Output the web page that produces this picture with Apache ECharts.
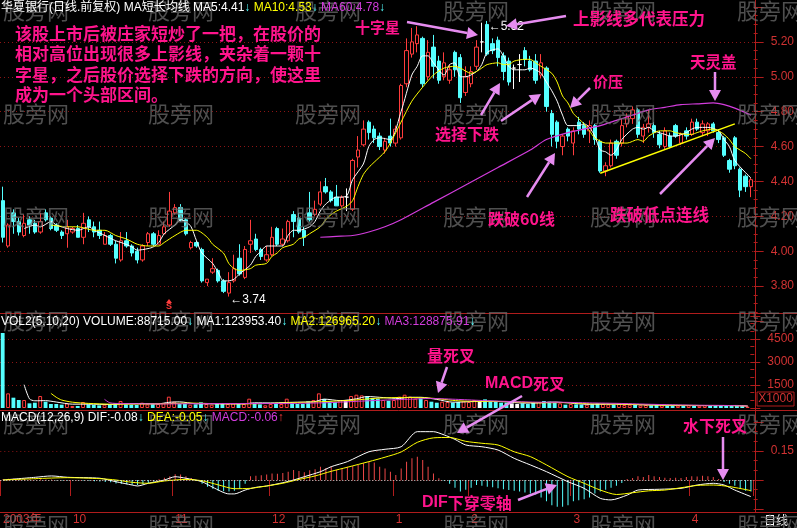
<!DOCTYPE html>
<html><head><meta charset="utf-8">
<script src="https://cdn.jsdelivr.net/npm/echarts@6/dist/echarts.min.js"></script>
<style>html,body{margin:0;padding:0;background:#000;}#c{width:797px;height:528px;}</style>
</head><body><div id="c"></div>
<script>
// ---------- data ----------
const opens = [4.29,4.03,4.22,4.17,4.09,4.18,4.16,4.11,4.22,4.19,
4.15,4.11,4.10,4.11,4.13,4.08,4.18,4.14,4.12,4.04,
4.09,4.04,3.95,4.06,4.03,4.00,3.95,4.05,4.10,4.04,
4.10,4.15,4.22,4.25,4.18,4.02,4.05,4.01,3.82,3.88,
3.89,3.83,3.76,3.83,3.96,3.85,4.04,4.07,4.01,3.95,
3.98,4.13,4.04,4.06,4.21,4.19,4.12,4.22,4.21,4.27,
4.37,4.34,4.31,4.26,4.31,4.24,4.54,4.61,4.74,4.70,
4.66,4.58,4.66,4.62,4.65,4.96,5.13,5.19,5.22,5.00,
5.17,5.09,5.00,4.98,5.14,5.11,4.91,4.96,5.06,5.20,
5.30,5.19,5.21,5.12,5.09,5.05,5.07,5.15,5.09,5.09,
5.01,5.05,4.79,4.74,4.60,4.70,4.62,4.74,4.72,4.69,
4.72,4.63,4.46,4.49,4.63,4.62,4.73,4.76,4.81,4.66,
4.71,4.72,4.67,4.60,4.66,4.72,4.62,4.69,4.67,4.74,
4.68,4.69,4.73,4.68,4.65,4.52,4.65,4.47,4.43,4.37];
const closes = [4.08,4.15,4.17,4.11,4.16,4.15,4.11,4.17,4.18,4.13,
4.12,4.09,4.14,4.13,4.08,4.16,4.14,4.11,4.09,4.09,
4.04,3.96,4.06,4.03,3.99,3.95,4.03,4.10,4.04,4.09,
4.14,4.23,4.25,4.18,4.10,4.05,4.03,3.83,3.84,3.90,
3.83,3.77,3.82,3.90,3.87,4.01,4.06,4.01,3.97,3.98,
4.08,4.04,4.07,4.17,4.17,4.11,4.08,4.18,4.24,4.34,
4.34,4.29,4.26,4.31,4.31,4.52,4.58,4.70,4.68,4.65,
4.60,4.63,4.62,4.70,4.95,5.15,5.20,5.24,4.96,5.14,
5.06,4.98,5.08,5.04,5.04,4.88,5.00,5.03,5.17,5.20,
5.13,5.15,5.11,5.03,4.97,5.05,5.07,5.10,5.04,4.98,
5.08,4.83,4.67,4.63,4.66,4.66,4.69,4.70,4.67,4.72,
4.64,4.46,4.49,4.62,4.55,4.72,4.77,4.81,4.67,4.71,
4.73,4.68,4.61,4.69,4.60,4.66,4.67,4.66,4.74,4.70,
4.73,4.73,4.69,4.64,4.55,4.47,4.49,4.35,4.37,4.41];
const highs = [4.37,4.16,4.24,4.19,4.21,4.20,4.18,4.22,4.24,4.20,
4.16,4.12,4.18,4.14,4.15,4.22,4.20,4.17,4.17,4.11,
4.10,4.06,4.11,4.11,4.04,4.02,4.04,4.11,4.11,4.12,
4.17,4.34,4.27,4.27,4.19,4.06,4.06,4.02,3.84,3.96,
3.90,3.84,3.88,3.98,4.04,4.03,4.18,4.10,4.02,4.03,
4.14,4.14,4.13,4.18,4.23,4.22,4.14,4.34,4.29,4.40,
4.42,4.35,4.38,4.32,4.36,4.53,4.66,4.75,4.75,4.72,
4.68,4.65,4.76,4.72,4.96,5.22,5.28,5.29,5.23,5.21,
5.24,5.12,5.14,5.07,5.15,5.13,5.06,5.06,5.21,5.31,
5.32,5.22,5.23,5.14,5.11,5.07,5.13,5.17,5.12,5.13,
5.13,5.06,4.81,4.75,4.67,4.71,4.71,4.77,4.74,4.75,
4.73,4.64,4.51,4.64,4.64,4.76,4.79,4.83,4.82,4.73,
4.81,4.74,4.69,4.71,4.68,4.73,4.68,4.71,4.76,4.76,
4.75,4.74,4.74,4.70,4.66,4.53,4.66,4.48,4.44,4.42];
const lows = [4.05,4.02,4.10,4.09,4.08,4.10,4.10,4.10,4.17,4.12,
4.11,4.07,4.02,4.10,4.08,4.04,4.11,4.08,4.07,4.04,
4.03,3.93,3.94,4.02,3.97,3.93,3.94,4.03,4.03,4.04,
4.10,4.14,4.21,4.17,4.09,4.01,4.02,3.82,3.80,3.87,
3.82,3.76,3.74,3.82,3.86,3.84,3.99,4.00,3.95,3.94,
3.97,4.03,4.03,4.05,4.08,4.10,4.03,4.17,4.20,4.26,
4.33,4.28,4.26,4.25,4.23,4.23,4.48,4.60,4.64,4.62,
4.58,4.56,4.60,4.60,4.64,4.94,5.11,5.14,4.94,4.98,
4.99,4.96,4.98,4.96,5.00,4.85,4.89,4.94,5.04,5.14,
5.12,5.13,5.06,4.98,4.95,4.93,4.97,5.06,5.03,4.96,
4.99,4.80,4.60,4.59,4.55,4.63,4.55,4.67,4.65,4.62,
4.61,4.45,4.43,4.48,4.53,4.60,4.71,4.73,4.65,4.62,
4.68,4.65,4.59,4.58,4.59,4.65,4.61,4.64,4.66,4.69,
4.66,4.66,4.68,4.62,4.54,4.45,4.47,4.31,4.34,4.31];
// volume, in units of 1000
const volumes = [4890,955,673,521,521,304,347,781,412,260,
260,217,304,130,130,390,239,195,174,217,
195,304,456,239,217,195,347,239,260,260,
304,738,412,260,260,217,239,369,260,217,
260,260,260,304,260,260,608,304,239,174,
260,304,260,608,390,260,260,434,521,955,
586,434,390,521,521,781,868,825,738,651,
608,521,477,521,738,868,738,608,630,521,
412,347,412,390,347,390,434,390,521,412,
564,412,390,347,347,304,260,304,260,347,
390,455,412,347,304,217,260,239,217,217,
239,304,260,239,217,260,195,217,239,174,
195,174,195,174,152,174,152,152,174,152,
152,174,152,130,174,152,195,174,130,89];
const macdHist = [0.004,0.006,0.008,0.006,0.005,0.004,0.003,0.004,0.003,0.002,
-0.002,-0.003,-0.002,-0.001,-0.003,-0.002,-0.004,-0.006,-0.008,-0.010,
-0.012,-0.018,-0.020,-0.022,-0.024,-0.026,-0.022,-0.015,-0.008,0.004,
0.012,0.020,0.030,0.028,0.020,0.010,-0.005,-0.020,-0.035,-0.045,
-0.055,-0.058,-0.060,-0.055,-0.045,-0.020,0.020,0.022,0.024,0.028,
0.034,0.032,0.036,0.043,0.052,0.046,0.040,0.050,0.055,0.069,
0.062,0.069,0.052,0.060,0.069,0.072,0.078,0.086,0.095,0.090,
0.069,0.060,0.043,0.026,0.060,0.095,0.112,0.120,0.103,0.069,
0.034,0.009,-0.005,-0.020,-0.040,-0.060,-0.050,-0.040,-0.026,-0.030,
-0.035,-0.038,-0.043,-0.048,-0.052,-0.055,-0.060,-0.065,-0.070,-0.075,
-0.090,-0.110,-0.130,-0.138,-0.138,-0.130,-0.110,-0.105,-0.100,-0.090,
-0.070,-0.060,-0.050,-0.040,-0.030,-0.015,0.005,0.010,0.020,0.015,
0.026,0.020,0.015,0.012,0.010,0.012,0.010,0.015,0.020,0.018,
0.022,0.020,0.015,0.005,-0.010,-0.020,-0.030,-0.045,-0.055,-0.060];
// moving-average lines: [day index, value]
const ma5Pts = [[4,4.13],[6,4.15],[7,4.14],[9,4.17],[10,4.15],[12,4.13],[14,4.12],[16,4.14],[17,4.12],[19,4.09],[21,4.06],[22,4.05],[24,4.025],[25,4.006],[27,4.015],[28,4.025],[29,4.05],[30,4.10],[32,4.15],[33,4.18],[34,4.17],[35,4.14],[36,4.06],[37,3.99],[39,3.93],[40,3.88],[41,3.83],[42,3.83],[43,3.84],[44,3.87],[46,3.92],[47,3.97],[48,4.00],[49,4.03],[51,4.03],[52,4.03],[53,4.09],[54,4.12],[55,4.12],[57,4.14],[58,4.17],[59,4.23],[60,4.27],[62,4.31],[63,4.31],[64,4.32],[65,4.41],[67,4.50],[68,4.60],[69,4.64],[70,4.65],[72,4.64],[74,4.80],[76,5.01],[77,5.06],[78,5.12],[79,5.12],[80,5.08],[82,5.01],[83,5.07],[84,5.08],[85,5.00],[86,5.00],[88,5.03],[89,5.07],[90,5.14],[92,5.16],[93,5.12],[94,5.06],[95,5.04],[97,5.04],[98,5.05],[99,5.04],[100,5.02],[101,4.97],[102,4.92],[103,4.86],[104,4.78],[105,4.72],[107,4.72],[108,4.73],[109,4.71],[110,4.66],[111,4.58],[112,4.57],[113,4.55],[114,4.58],[115,4.64],[117,4.70],[118,4.71],[119,4.70],[120,4.71],[121,4.69],[123,4.67],[124,4.66],[125,4.66],[127,4.68],[128,4.70],[129,4.71],[130,4.71],[131,4.71],[133,4.69],[134,4.64],[135,4.60],[136,4.52],[138,4.45],[139,4.42]];
const ma10Pts = [[9,4.15],[12,4.14],[14,4.14],[17,4.12],[19,4.12],[21,4.09],[23,4.07],[25,4.04],[27,4.03],[29,4.03],[30,4.05],[32,4.09],[34,4.12],[36,4.12],[38,4.08],[39,4.04],[41,3.99],[42,3.93],[43,3.90],[44,3.89],[46,3.90],[47,3.92],[49,3.93],[50,3.97],[51,3.99],[52,4.02],[54,4.04],[55,4.07],[56,4.08],[57,4.10],[59,4.14],[60,4.18],[61,4.21],[62,4.23],[64,4.26],[65,4.29],[66,4.37],[67,4.44],[68,4.48],[69,4.51],[71,4.57],[72,4.62],[74,4.74],[76,4.86],[78,4.94],[80,5.01],[82,5.05],[84,5.06],[85,5.05],[87,5.02],[88,5.03],[89,5.05],[90,5.07],[92,5.08],[93,5.07],[94,5.07],[95,5.09],[97,5.10],[98,5.10],[99,5.08],[100,5.06],[102,5.02],[103,4.97],[104,4.89],[105,4.85],[106,4.79],[107,4.76],[108,4.73],[109,4.69],[110,4.65],[112,4.62],[114,4.62],[116,4.62],[118,4.64],[119,4.63],[120,4.66],[122,4.69],[123,4.69],[124,4.69],[125,4.68],[127,4.67],[128,4.67],[129,4.68],[130,4.69],[132,4.70],[133,4.69],[134,4.67],[135,4.64],[136,4.60],[138,4.56],[139,4.53]];
const ma60Pts = [[59,4.08],[62,4.085],[65,4.09],[68,4.11],[71,4.14],[74,4.18],[80,4.28],[86,4.38],[92,4.48],[98,4.58],[101,4.64],[105,4.68],[108,4.70],[111,4.72],[114,4.75],[117,4.78],[120,4.81],[123,4.825],[126,4.84],[129,4.845],[132,4.85],[134,4.84],[136,4.82],[139,4.78]];
const volMa5Pts = [[4,1518],[5,596],[6,470],[8,480],[10,390],[13,250],[16,250],[20,230],[23,280],[26,290],[29,270],[31,370],[33,400],[36,280],[40,270],[45,270],[47,340],[50,330],[53,360],[55,380],[58,400],[60,580],[63,480],[66,600],[68,750],[71,680],[74,620],[76,700],[78,700],[81,560],[84,380],[88,420],[91,440],[94,400],[97,320],[100,330],[103,390],[106,320],[109,240],[112,250],[115,250],[118,220],[122,190],[126,165],[130,160],[134,155],[137,165],[139,124]];
const volMa10Pts = [[9,957],[10,700],[11,520],[13,380],[16,300],[20,250],[25,250],[30,280],[35,320],[40,280],[45,270],[50,300],[55,360],[60,420],[65,500],[70,640],[75,690],[80,640],[85,470],[90,430],[95,410],[100,340],[105,350],[110,270],[115,260],[120,210],[125,180],[130,165],[135,160],[139,127]];
const volMa20Pts = [[19,565],[20,340],[22,290],[30,265],[40,290],[50,290],[60,340],[70,500],[75,560],[80,620],[85,560],[90,480],[95,420],[100,380],[105,370],[110,330],[115,300],[120,250],[125,210],[130,180],[135,165],[139,129]];
const difPts = [[0,0.000],[6,0.014],[9,0.021],[12,0.014],[18,0.009],[21,-0.009],[24,-0.026],[25,-0.031],[27,-0.017],[30,0.000],[32,0.017],[34,0.009],[37,-0.009],[39,-0.038],[42,-0.072],[43,-0.072],[45,-0.052],[47,-0.038],[49,-0.031],[52,-0.014],[54,0.000],[56,0.017],[59,0.043],[61,0.069],[64,0.095],[68,0.146],[71,0.159],[74,0.172],[77,0.250],[80,0.250],[82,0.233],[84,0.210],[86,0.181],[89,0.172],[92,0.155],[95,0.112],[98,0.078],[101,0.043],[105,-0.009],[108,-0.043],[111,-0.095],[113,-0.103],[116,-0.078],[118,-0.052],[122,-0.048],[126,-0.043],[129,-0.026],[132,-0.017],[134,-0.026],[136,-0.052],[139,-0.086]];
const deaPts = [[0,0.000],[6,0.007],[12,0.012],[18,0.007],[21,0.000],[24,-0.012],[27,-0.017],[30,-0.005],[34,0.003],[37,-0.004],[40,-0.025],[43,-0.045],[46,-0.043],[49,-0.031],[52,-0.017],[55,0.003],[58,0.021],[61,0.045],[64,0.066],[68,0.095],[71,0.118],[74,0.145],[77,0.195],[80,0.218],[83,0.220],[86,0.200],[89,0.190],[92,0.181],[95,0.146],[98,0.121],[101,0.078],[105,0.017],[108,-0.017],[111,-0.052],[114,-0.075],[117,-0.066],[120,-0.056],[123,-0.052],[126,-0.040],[129,-0.028],[132,-0.026],[135,-0.034],[139,-0.055]];
const monthLabels = [[0,'2003年'],[13,'10'],[32,'11'],[50,'12'],[73,'1'],[87,'2'],[106,'3'],[128,'4']];
const priceExtremes = [[90,5.32],[42,3.74]];
const supportLine = [[110.5,4.447],[135.5,4.73]];

// ---------- styling ----------
const RED='#ff3c3c', CYAN='#54ffff', YEL='#ffff00', MAG='#d23cdc', WHITE='#ffffff';
const AXRED='#b01c1c', LBL='#d03232', GRIDC='#8c1414', PINK='#ff148c', ARROW='#e68cf0';
const FONT='"Liberation Sans","Noto Sans CJK SC",sans-serif';
const CJK='"Noto Sans CJK SC",sans-serif';

const days = opens.map((_, i) => String(i));
const monthMap = {}; monthLabels.forEach(([i, t]) => monthMap[i] = t);

const candleData = opens.map((o, i) => {
  const it = {value: [o, closes[i], lows[i], highs[i]]};
  if (o === closes[i]) it.itemStyle = {color: WHITE, color0: WHITE, borderColor: WHITE, borderColor0: WHITE};
  return it;
});
const volData = volumes.map((v, i) => ({
  value: v,
  itemStyle: closes[i] > opens[i] ? {color: 'rgba(0,0,0,0)', borderColor: RED, borderWidth: 1}
    : closes[i] < opens[i] ? {color: CYAN} : {color: WHITE}
}));
const macdData = macdHist.map(v => ({value: v, itemStyle: {color: v >= 0 ? '#f04848' : CYAN}}));

function lineSeries(data, color, xi, yi, w) {
  return {type: 'line', data, xAxisIndex: xi, yAxisIndex: yi, showSymbol: false, symbol: 'none',
    smooth: 0.25, lineStyle: {color, width: w || 1}, silent: true, z: 3};
}

function yAx(grid, min, max, interval, fmt) {
  return {type: 'value', gridIndex: grid, position: 'right', min, max, interval,
    axisLine: {show: false},
    axisTick: {show: true, length: 10, lineStyle: {color: AXRED}},
    minorTick: {show: true, splitNumber: grid === 0 ? 4 : 3, length: 4, lineStyle: {color: AXRED}},
    axisLabel: {show: true, showMinLabel: false, showMaxLabel: false, margin: 17, color: LBL, fontSize: 12, fontFamily: FONT, formatter: fmt},
    splitLine: {show: true, showMinLine: false, showMaxLine: false, lineStyle: {color: GRIDC, type: [1, 3], width: 1}},
    minorSplitLine: {show: false}};
}
function xAx(grid, show) {
  const a = {type: 'category', data: days, gridIndex: grid, boundaryGap: true,
    axisLine: {show: false}, axisTick: {show: false}, axisLabel: {show: false}, splitLine: {show: false}};
  if (show) {
    a.offset = 3;
    a.axisTick = {show: true, interval: (i) => monthMap[i] !== undefined, length: 16, lineStyle: {color: AXRED}};
    a.axisLabel = {show: true, interval: (i) => monthMap[i] !== undefined, formatter: (v, i) => monthMap[i] || '',
      align: 'left', margin: 2, color: LBL, fontSize: 12, fontFamily: FONT};
  }
  return a;
}

// ---------- graphics ----------
const G = [];
function arrow(x1, y1, x2, y2) {
  const a = Math.atan2(y2 - y1, x2 - x1), L = 11, W = 6;
  const bx = x2 - L * Math.cos(a), by = y2 - L * Math.sin(a);
  const px = -Math.sin(a) * W, py = Math.cos(a) * W;
  G.push({type: 'line', z: 120, shape: {x1, y1, x2: bx, y2: by}, style: {stroke: ARROW, lineWidth: 2.5}});
  G.push({type: 'polygon', z: 120, shape: {points: [[x2, y2], [bx + px, by + py], [bx - px, by - py]]}, style: {fill: ARROW}});
}
function note(text, x, y, size) {
  G.push({type: 'text', z: 120, x, y, style: {text, fill: PINK, fontSize: size || 16, fontWeight: 'bold', fontFamily: CJK, verticalAlign: 'middle'}});
}
// watermark
[0, 103, 206, 310, 413, 514].forEach(y => [3, 148, 295, 443, 590, 737].forEach(x => {
  G.push({type: 'text', z: 90, x, y, style: {text: '股旁网', fill: 'rgba(110,110,110,0.72)', fontSize: 22, fontFamily: CJK}});
}));
// panel separators
[313.5, 410.5, 512.5].forEach(y => G.push({type: 'line', z: 50, shape: {x1: 0, y1: y, x2: 797, y2: y}, style: {stroke: AXRED, lineWidth: 1}}));
G.push({type: 'line', z: 50, shape: {x1: 755.5, y1: 0, x2: 755.5, y2: 512}, style: {stroke: AXRED, lineWidth: 1}});
// titles
const rich = {
  w: {fill: WHITE, fontSize: 12, fontFamily: FONT}, c: {fill: CYAN, fontSize: 12, fontFamily: FONT, fontWeight: 'bold'},
  y: {fill: YEL, fontSize: 12, fontFamily: FONT}, m: {fill: MAG, fontSize: 12, fontFamily: FONT},
  r: {fill: RED, fontSize: 12, fontFamily: FONT, fontWeight: 'bold'}
};
function title(text, y) { G.push({type: 'text', z: 110, x: 1, y, style: {text, rich, fontSize: 12, fontFamily: FONT, fill: WHITE}}); }
title('{w|华夏银行(日线.前复权) MA短长均线 MA5:4.41}{c|↓} {y|MA10:4.53}{c|↓} {m|MA60:4.78}{c|↓}', 2);
title('{w|VOL2(5,10,20) VOLUME:88715.00}{c|↓} {w|MA1:123953.40}{c|↓} {y|MA2:126965.20}{c|↓} {m|MA3:128875.91}{c|↓}', 316);
title('{w|MACD(12,26,9) DIF:-0.08}{c|↓} {y|DEA:-0.05}{c|↓} {m|MACD:-0.06}{r|↑}', 412);
// X1000 box and 日线
G.push({type: 'rect', z: 60, shape: {x: 757, y: 392, width: 37, height: 14}, style: {fill: '#000', stroke: AXRED, lineWidth: 1}});
G.push({type: 'text', z: 61, x: 775.5, y: 399, style: {text: 'X1000', fill: LBL, fontSize: 12, fontFamily: FONT, align: 'center', verticalAlign: 'middle'}});
G.push({type: 'text', z: 61, x: 764, y: 520, style: {text: '日线', fill: WHITE, fontSize: 12, fontFamily: CJK, verticalAlign: 'middle'}});
// S signal
G.push({type: 'polygon', z: 60, shape: {points: [[169, 299], [166, 303], [172, 303]]}, style: {fill: RED}});
G.push({type: 'text', z: 60, x: 169, y: 307, style: {text: 'S', fill: RED, fontSize: 9, fontWeight: 'bold', fontFamily: FONT, align: 'center', verticalAlign: 'middle'}});
// annotations
G.push({type: 'text', z: 120, x: 15, y: 23, style: {text: '该股上市后被庄家短炒了一把，在股价的\n相对高位出现很多上影线，夹杂着一颗十\n字星，之后股价选择下跌的方向，使这里\n成为一个头部区间。',
  fill: PINK, fontSize: 17, lineHeight: 20.5, fontWeight: 'bold', fontFamily: CJK}});
note('十字星', 355, 27, 15);
note('上影线多代表压力', 573, 19, 16.5);
note('价压', 593, 81, 15);
note('天灵盖', 690, 62, 15.5);
note('选择下跌', 435, 134, 16);
note('跌破60线', 488, 219, 16);
note('跌破低点连线', 610, 215, 16.5);
note('量死叉', 427, 356, 16);
note('水下死叉', 683, 426, 16);
G.push({type: 'text', z: 120, x: 485, y: 384, style: {text: '{a|MACD}{b|死叉}', verticalAlign: 'middle',
  rich: {a: {fill: PINK, fontSize: 16, fontWeight: 'bold', fontFamily: FONT}, b: {fill: PINK, fontSize: 16, fontWeight: 'bold', fontFamily: CJK}}}});
G.push({type: 'text', z: 120, x: 422, y: 503, style: {text: '{a|DIF}{b|下穿零轴}', verticalAlign: 'middle',
  rich: {a: {fill: PINK, fontSize: 16, fontWeight: 'bold', fontFamily: FONT}, b: {fill: PINK, fontSize: 16, fontWeight: 'bold', fontFamily: CJK}}}});
arrow(407, 22, 478, 35);
arrow(566, 16, 506, 26);
arrow(481, 115, 500, 83);
arrow(501, 121, 541, 94);
arrow(590, 88, 570, 108);
arrow(715, 72, 715, 101);
arrow(527, 197, 555, 153);
arrow(660, 194, 715, 138);
arrow(447, 367, 438, 393);
arrow(522, 396, 457, 433);
arrow(518, 500, 557, 485);
arrow(723, 437, 723, 480);

// ---------- chart ----------
const chart = echarts.init(document.getElementById('c'), null, {renderer: 'canvas'});
chart.setOption({
  backgroundColor: '#000',
  animation: false,
  grid: [
    {left: 0, right: 42, top: 7, height: 314},
    {left: 0, right: 42, top: 316, height: 92},
    {left: 0, right: 42, top: 422, height: 87}
  ],
  xAxis: [xAx(0, false), xAx(1, false), xAx(2, true)],
  yAxis: [
    yAx(0, 3.6, 5.4, 0.2, v => v.toFixed(2)),
    yAx(1, 0, 6000, 1500, v => String(Math.round(v))),
    yAx(2, -0.15, 0.30, 0.15, v => Math.abs(v - 0.15) < 1e-6 ? '0.15' : '')
  ],
  series: [
    {type: 'candlestick', data: candleData, xAxisIndex: 0, yAxisIndex: 0, barWidth: '72%',
      itemStyle: {color: '#000', color0: CYAN, borderColor: RED, borderColor0: CYAN, borderWidth: 1},
      markLine: {silent: true, symbol: ['none', 'none'], label: {show: false},
        lineStyle: {color: YEL, width: 1.5, type: 'solid'},
        data: [[{coord: supportLine[0]}, {coord: supportLine[1]}]]},
      markPoint: {silent: true, symbol: 'rect', symbolSize: 1, itemStyle: {color: 'rgba(0,0,0,0)'},
        label: {show: true, position: 'right', distance: 1, color: WHITE, fontSize: 12, fontFamily: FONT,
          formatter: p => '←' + p.value.toFixed(2)},
        data: priceExtremes.map((p, k) => ({coord: p, value: p[1], label: {offset: [0, k === 0 ? 6 : 3]}}))}
    },
    lineSeries(ma5Pts, WHITE, 0, 0),
    lineSeries(ma10Pts, YEL, 0, 0),
    lineSeries(ma60Pts, MAG, 0, 0, 1.2),
    {type: 'bar', data: volData, xAxisIndex: 1, yAxisIndex: 1, barWidth: '72%', silent: true},
    lineSeries(volMa5Pts, WHITE, 1, 1),
    lineSeries(volMa10Pts, YEL, 1, 1),
    lineSeries(volMa20Pts, MAG, 1, 1),
    {type: 'bar', data: macdData, xAxisIndex: 2, yAxisIndex: 2, barWidth: 1, silent: true,
      markLine: {silent: true, symbol: ['none', 'none'], label: {show: false},
        lineStyle: {color: '#dddddd', type: [1, 2], width: 1}, data: [{yAxis: 0}]}},
    lineSeries(difPts, WHITE, 2, 2),
    lineSeries(deaPts, YEL, 2, 2)
  ],
  graphic: G
});
</script>
</body></html>
